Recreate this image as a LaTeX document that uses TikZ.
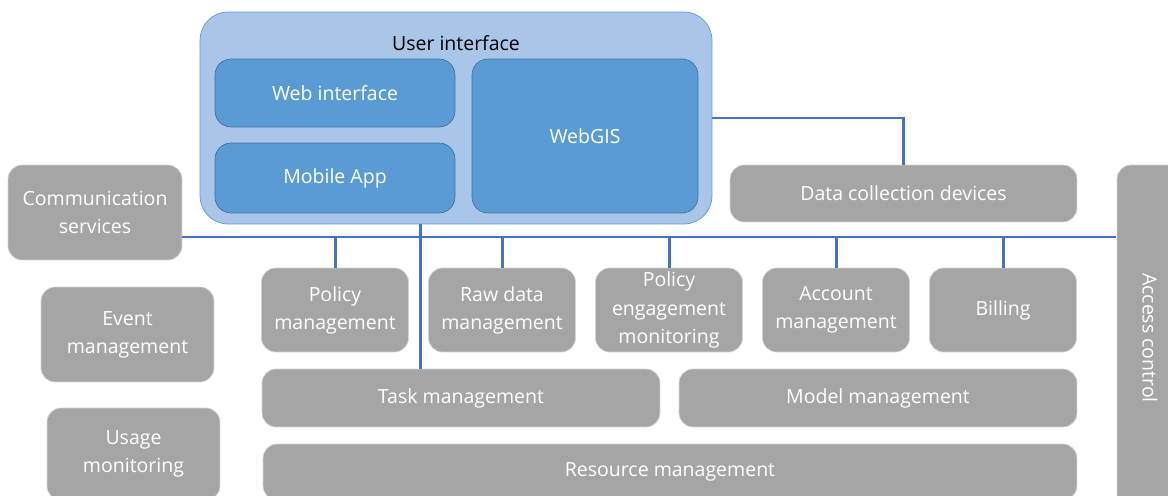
\documentclass[tikz,border=0pt]{standalone}
\usepackage{fontspec}
\setmainfont{Open Sans}
\usepackage{xcolor}
\usepackage{tikz}
\definecolor{uiback}{HTML}{A9C6E9}
\definecolor{uiedge}{HTML}{5B9BD5}
\definecolor{appfill}{HTML}{5B9BD5}
\definecolor{appedge}{HTML}{41719C}
\definecolor{modfill}{HTML}{A5A5A5}
\definecolor{modedge}{HTML}{D4D4D4}
\definecolor{busline}{HTML}{4472C4}

\begin{document}
\begin{tikzpicture}[x=0.02cm,y=-0.02cm,
    every node/.style={font=\fontsize{11.1}{16}\selectfont,align=center,inner sep=0pt},
    modbox/.style={rectangle,rounded corners=0.28cm,fill=modfill,draw=modedge,thin,text=white},
    appbox/.style={rectangle,rounded corners=0.32cm,fill=appfill,draw=appedge,text=white},
    bus/.style={draw=busline,line width=1.7pt}]
            \clip[use as bounding box] (0,0) rectangle (1168,496);
            % user interface group
            \node[rectangle,rounded corners=0.56cm,fill=uiback,draw=uiedge,minimum width=10.24cm,minimum height=4.24cm] (ui) at (456,118) {};
            \node (uititle) at (456,43) {User interface};
            \node[appbox,minimum width=4.8cm,minimum height=1.36cm] (web) at (335,93) {Web interface};
            \node[appbox,minimum width=4.8cm,minimum height=1.4cm] (mobile) at (335,178) {Mobile App};
            \node[appbox,minimum width=4.52cm,minimum height=3.08cm] (webgis) at (585,136) {WebGIS};
            % side modules
            \node[modbox,minimum width=3.48cm,minimum height=1.9cm] (comm) at (95,212.5) {Communication\\services};
            \node[modbox,minimum width=3.46cm,minimum height=1.9cm] (event) at (127.5,334.5) {Event\\management};
            \node[modbox,minimum width=3.46cm,minimum height=1.84cm] (usage) at (133.5,454) {Usage\\monitoring};
            \node[modbox,minimum width=6.94cm,minimum height=1.14cm] (dcd) at (903.5,193.5) {Data collection devices};
            \node[modbox,rotate=-90,minimum width=6.92cm,minimum height=1.32cm] (access) at (1150,338) {Access control};
            % service row
            \node[modbox,minimum width=2.94cm,minimum height=1.68cm] (policy) at (335,310) {Policy\\management};
            \node[modbox,minimum width=2.94cm,minimum height=1.68cm] (raw) at (502,310) {Raw data\\management};
            \node[modbox,minimum width=2.94cm,minimum height=1.68cm] (engage) at (669,310) {Policy\\engagement\\monitoring};
            \node[modbox,minimum width=2.94cm,minimum height=1.68cm] (account) at (836,310) {Account\\management};
            \node[modbox,minimum width=2.94cm,minimum height=1.68cm] (billing) at (1003,310) {Billing};
            \node[modbox,minimum width=7.96cm,minimum height=1.16cm] (task) at (461,398) {Task management};
            \node[modbox,minimum width=7.96cm,minimum height=1.16cm] (model) at (878,398) {Model management};
            \node[modbox,minimum width=16.28cm,minimum height=1.12cm] (resource) at (670,472) {Resource management};
            % connectors
            \coordinate (busL) at (182,237);
            \coordinate (busR) at (1116,237);
            \coordinate (uiout) at (420,224);
              \draw[bus] (busL)--(busR);
              \draw[bus] (policy.north |- busL)--(policy.north);
              \draw[bus] (raw.north |- busL)--(raw.north);
              \draw[bus] (engage.north |- busL)--(engage.north);
              \draw[bus] (account.north |- busL)--(account.north);
              \draw[bus] (billing.north |- busL)--(billing.north);
              \draw[bus] (uiout)--(uiout |- task.north);
              \draw[bus] (ui.east) -| (dcd.north);
            \end{tikzpicture}
\end{document}
